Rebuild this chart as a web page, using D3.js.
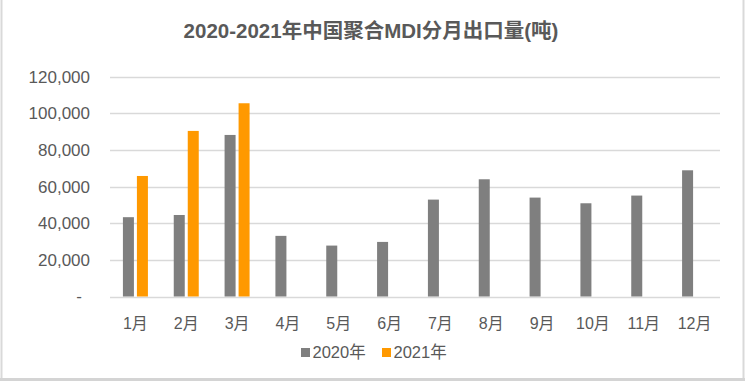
<!DOCTYPE html>
<html><head><meta charset="utf-8">
<script src="https://cdn.jsdelivr.net/npm/d3@7"></script>
<style>body{margin:0;background:#fff}svg{display:block}</style>
</head><body>
<svg id="c" width="745" height="381"></svg>
<script>
const months = ["1月","2月","3月","4月","5月","6月","7月","8月","9月","10月","11月","12月"];
const seriesNames = ["2020年","2021年"];
const values2020 = [43300,44500,88200,33100,27800,29800,52900,64000,54000,50900,55100,68900];
const values2021 = [65800,90400,105500,null,null,null,null,null,null,null,null,null];
const yTicks = [0,20000,40000,60000,80000,100000,120000];
const colors = ["#7f7f7f","#ff9900"];
const title = "2020-2021年中国聚合MDI分月出口量(吨)";

const svg = d3.select("#c");
const font = "'Liberation Sans','Noto Sans CJK SC',Arial,sans-serif";
const txt = "#595959";

// border
svg.append("line").attr("x1",1.5).attr("x2",1.5).attr("y1",0).attr("y2",381).attr("stroke","#d9d9d9").attr("stroke-width",2);
svg.append("line").attr("x1",743.5).attr("x2",743.5).attr("y1",0).attr("y2",381).attr("stroke","#d9d9d9").attr("stroke-width",2);
svg.append("line").attr("x1",0).attr("x2",745).attr("y1",379.5).attr("y2",379.5).attr("stroke","#d4d4d4").attr("stroke-width",3);

const x0 = d3.scaleBand().domain(months).range([110,720]);
const bw = x0.bandwidth();
const x1 = d3.scaleBand().domain(seriesNames).range([bw/2-12.5, bw/2+12.5]).paddingInner(0.214);
const y = d3.scaleLinear().domain([0,120000]).range([296.5,76.7]);

// grid
svg.append("g").selectAll("line").data(yTicks).join("line")
  .attr("x1",110).attr("x2",720)
  .attr("y1",d=>Math.round(y(d))+0.5).attr("y2",d=>Math.round(y(d))+0.5)
  .attr("stroke","#d9d9d9").attr("stroke-width",1.5);

// y labels
const fmt = d3.format(",");
svg.append("g").selectAll("text").data(yTicks).join("text")
  .attr("x",d=>d===0?82:90).attr("y",d=>y(d)).attr("dy","0.35em")
  .attr("text-anchor","end").attr("font-family",font).attr("font-size",17).attr("fill",txt)
  .text(d=>d===0?"-":fmt(d));

// bars
const data = months.map((m,i)=>({m, vals:[values2020[i],values2021[i]]}));
const g = svg.append("g");
data.forEach(d=>{
  d.vals.forEach((v,j)=>{
    if(v==null) return;
    g.append("rect")
      .attr("x",x0(d.m)+x1(seriesNames[j]))
      .attr("width",x1.bandwidth())
      .attr("y",y(v)).attr("height",y(0)-y(v))
      .attr("fill",colors[j]);
  });
});

// x labels
svg.append("g").selectAll("text").data(months).join("text")
  .attr("x",d=>x0(d)+bw/2).attr("y",323).attr("dy","0.35em")
  .attr("text-anchor","middle").attr("font-family",font).attr("font-size",16).attr("fill",txt)
  .text(d=>d);

// title
svg.append("text").attr("x",371).attr("y",31).attr("dy","0.35em")
  .attr("text-anchor","middle").attr("font-family",font).attr("font-size",20.5)
  .attr("font-weight","bold").attr("fill",txt).text(title);

// legend
const legX = [301, 382];
seriesNames.forEach((s,i)=>{
  svg.append("rect").attr("x",legX[i]).attr("y",348).attr("width",9).attr("height",9).attr("fill",colors[i]);
  svg.append("text").attr("x",legX[i]+11.5).attr("y",352.5).attr("dy","0.35em")
    .attr("font-family",font).attr("font-size",16.5).attr("fill",txt).text(s);
});
</script>
</body></html>
